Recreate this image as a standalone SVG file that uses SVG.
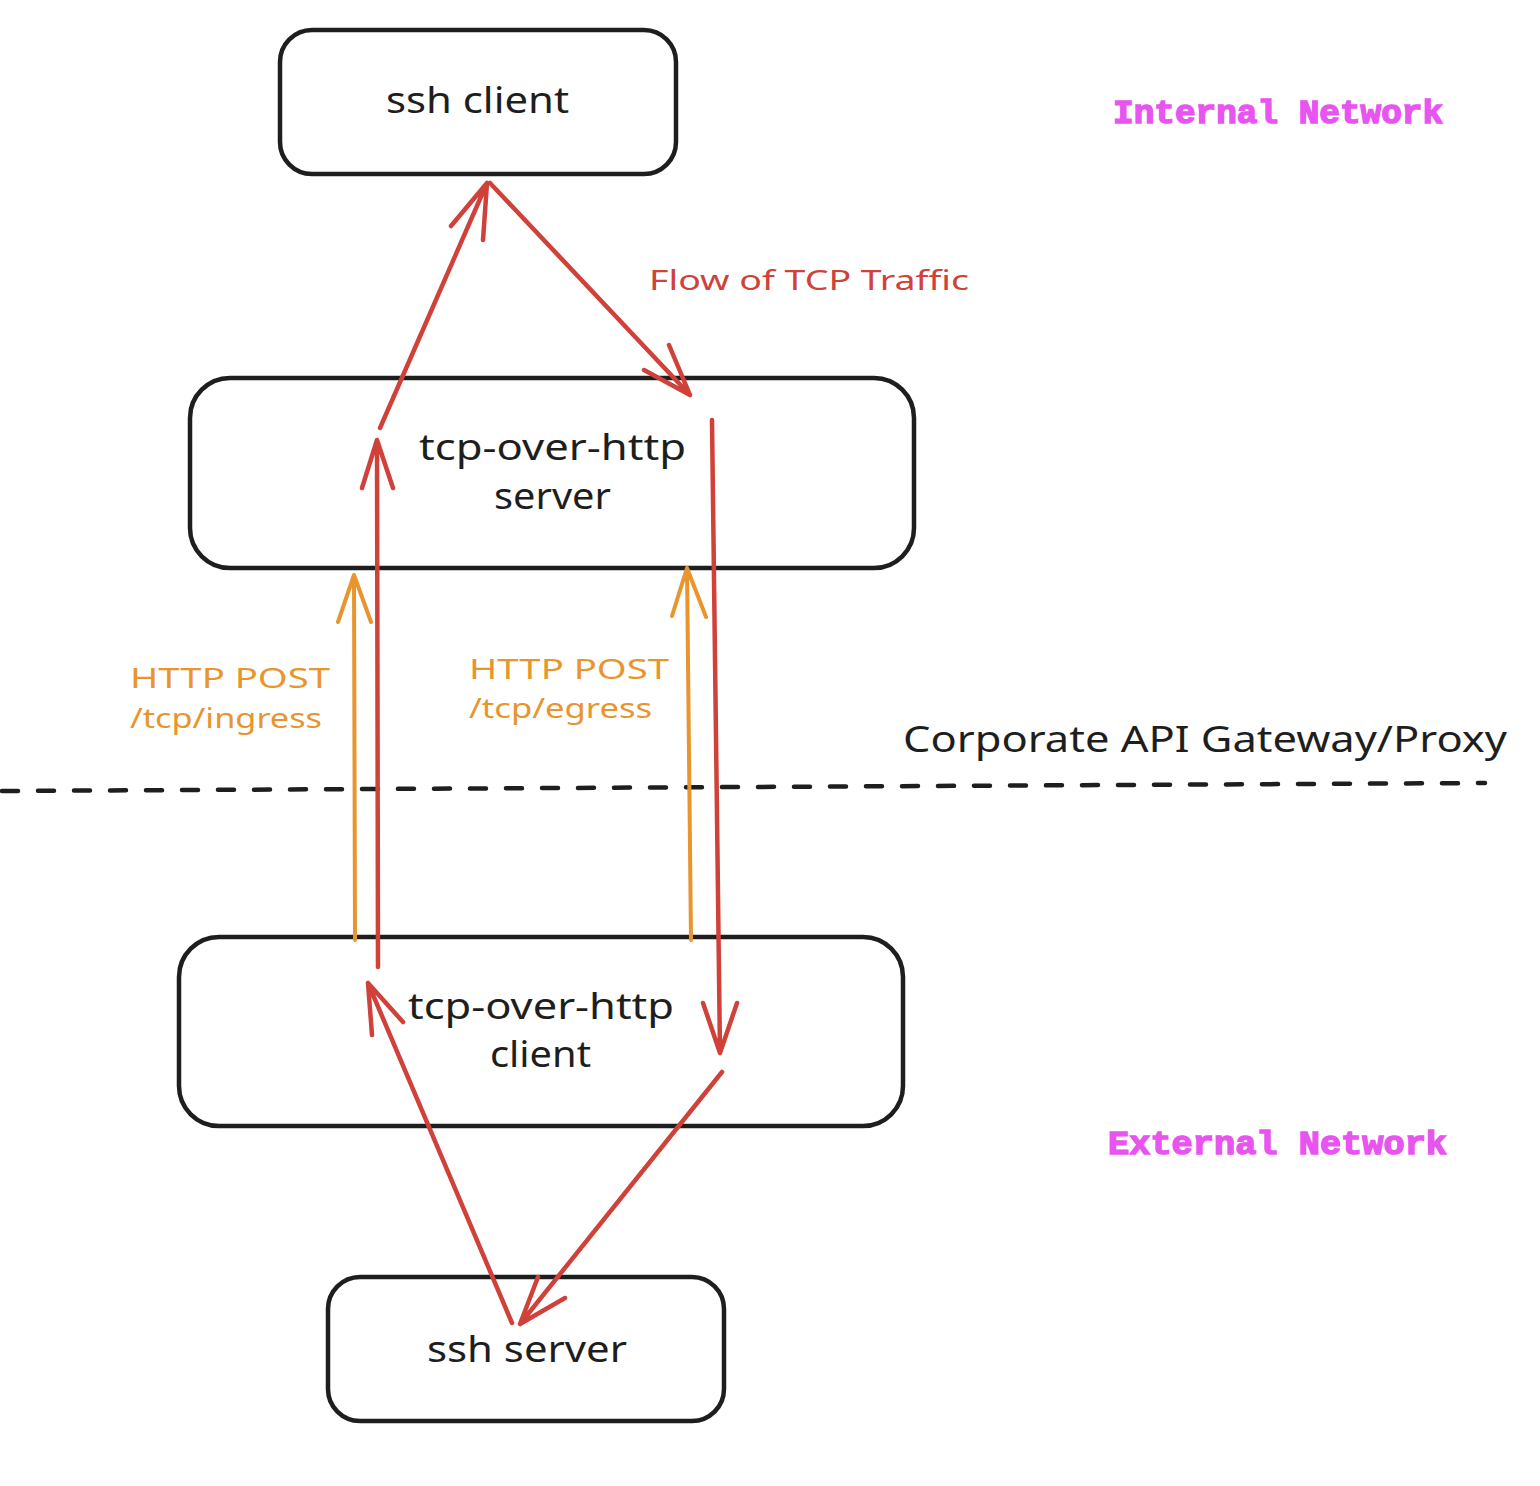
<svg xmlns="http://www.w3.org/2000/svg" width="1540" height="1486" viewBox="0 0 1540 1486">
<style>
.box{fill:#ffffff;stroke:#1e1e1e;stroke-width:4.5;}
.lbl{font-family:"Noto Sans","Liberation Sans",sans-serif;fill:#1e1e1e;font-size:36px;}
.red{stroke:#d0413a;stroke-width:4.5;fill:none;stroke-linecap:round;stroke-linejoin:round;}
.org{stroke:#e8952e;stroke-width:4;fill:none;stroke-linecap:round;stroke-linejoin:round;}
.redt{font-family:"Noto Sans","Liberation Sans",sans-serif;fill:#d0413a;font-size:28px;}
.orgt{font-family:"Noto Sans","Liberation Sans",sans-serif;fill:#e8952e;font-size:28px;}
.net{font-family:"Liberation Mono","DejaVu Sans Mono",monospace;font-weight:bold;fill:#e854f0;stroke:#e854f0;stroke-width:1.5;font-size:34px;}
.gw{font-family:"Noto Sans","Liberation Sans",sans-serif;fill:#1e1e1e;font-size:36px;}
</style>
<rect width="1540" height="1486" fill="#ffffff"/>
<g id="ssh-client">
<rect class="box" x="280" y="30" width="396" height="144" rx="32"/>
<text class="lbl" x="386" y="113" textLength="183" lengthAdjust="spacingAndGlyphs">ssh client</text>
</g>
<g id="tcp-server">
<rect class="box" x="190" y="378" width="724" height="190" rx="40"/>
<text class="lbl" x="419" y="460" textLength="267" lengthAdjust="spacingAndGlyphs">tcp-over-http</text>
<text class="lbl" x="494" y="509" textLength="117" lengthAdjust="spacingAndGlyphs">server</text>
</g>
<g id="tcp-client">
<rect class="box" x="179" y="937" width="724" height="189" rx="40"/>
<text class="lbl" x="408" y="1019" textLength="266" lengthAdjust="spacingAndGlyphs">tcp-over-http</text>
<text class="lbl" x="490" y="1067" textLength="101" lengthAdjust="spacingAndGlyphs">client</text>
</g>
<g id="ssh-server">
<rect class="box" x="328" y="1277" width="396" height="144" rx="32"/>
<text class="lbl" x="427" y="1362" textLength="200" lengthAdjust="spacingAndGlyphs">ssh server</text>
</g>
<g id="boundary">
<line x1="2" y1="791" x2="1485" y2="783" stroke="#1e1e1e" stroke-width="4.5" stroke-dasharray="16 20" stroke-linecap="round"/>
</g>
<g id="connectors">
<path class="red" d="M380 428 L487 183 M451 226 L487 183 L483 240"/>
<path class="red" d="M490 183 L690 395 M669 345 L690 395 L644 370"/>
<path class="red" d="M378 967 L377 440 M362 488 L377 440 L393 488"/>
<path class="red" d="M712 420 L720 1053 M703 1003 L720 1053 L737 1003"/>
<path class="red" d="M512 1323 L368 983 M372 1035 L368 983 L403 1022"/>
<path class="red" d="M722 1072 L520 1324 M538 1277 L520 1324 L565 1298"/>
<path class="org" d="M355 940 L354 575 M338 622 L354 575 L371 622"/>
<path class="org" d="M691 940 L687 568 M672 616 L687 568 L706 617"/>
</g>
<g id="labels">
<text class="net" x="1113" y="123" textLength="330" lengthAdjust="spacingAndGlyphs">Internal Network</text>
<text class="net" x="1108" y="1154" textLength="339" lengthAdjust="spacingAndGlyphs">External Network</text>
<text class="redt" x="649" y="290" textLength="320" lengthAdjust="spacingAndGlyphs">Flow of TCP Traffic</text>
<text class="orgt" x="130" y="688" textLength="200" lengthAdjust="spacingAndGlyphs">HTTP POST</text>
<text class="orgt" x="130" y="728" textLength="192" lengthAdjust="spacingAndGlyphs">/tcp/ingress</text>
<text class="orgt" x="469" y="679" textLength="200" lengthAdjust="spacingAndGlyphs">HTTP POST</text>
<text class="orgt" x="469" y="718" textLength="183" lengthAdjust="spacingAndGlyphs">/tcp/egress</text>
<text class="gw" x="903" y="752" textLength="604" lengthAdjust="spacingAndGlyphs">Corporate API Gateway/Proxy</text>
</g>
</svg>
